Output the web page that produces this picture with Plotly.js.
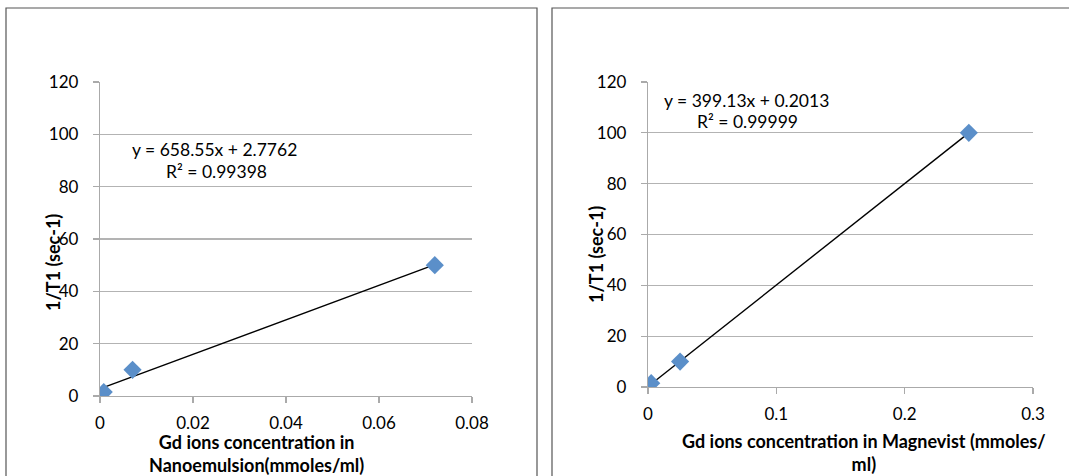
<!DOCTYPE html>
<html><head><meta charset="utf-8">
<script src="https://cdn.plot.ly/plotly-3.0.1.min.js"></script>
<style>body{margin:0;background:#fff}#c{width:1069px;height:476px}</style>
</head><body><div id="c"></div>
<script>
// Left: Nanoemulsion
const nanoX = [0.0008, 0.007, 0.072];
const nanoY = [1.5, 10, 50];
const nanoFit = {slope: 658.55, intercept: 2.7762, r2: "0.99398"};
// Right: Magnevist
const magX = [0.0025, 0.025, 0.25];
const magY = [1.5, 10, 100];
const magFit = {slope: 399.13, intercept: 0.2013, r2: "0.99999"};

const yTicks = [0, 20, 40, 60, 80, 100, 120];
const nanoXTicks = [0, 0.02, 0.04, 0.06, 0.08];
const nanoXLabels = ["0", "0.02", "0.04", "0.06", "0.08"];
const magXTicks = [0, 0.1, 0.2, 0.3];
const magXLabels = ["0", "0.1", "0.2", "0.3"];

const FONT = "Lato, 'Open Sans', sans-serif";
const mk = {symbol: "diamond", size: 14, color: "#5b8fc9"};

function fitLine(xs, f) {
  const lo = Math.min(...xs), hi = Math.max(...xs);
  return {x: [lo, hi], y: [f.slope * lo + f.intercept, f.slope * hi + f.intercept]};
}
const nl = fitLine(nanoX, nanoFit), ml = fitLine(magX, magFit);

const data = [
  {x: nl.x, y: nl.y, mode: "lines", line: {color: "#000", width: 1.4}, xaxis: "x", yaxis: "y", hoverinfo: "skip"},
  {x: nanoX, y: nanoY, mode: "markers", marker: mk, xaxis: "x", yaxis: "y"},
  {x: ml.x, y: ml.y, mode: "lines", line: {color: "#000", width: 1.4}, xaxis: "x2", yaxis: "y2", hoverinfo: "skip"},
  {x: magX, y: magY, mode: "markers", marker: mk, xaxis: "x2", yaxis: "y2"}
];

const W = 1069, H = 476;
const px = v => v / W, py = v => 1 - v / H;

function xax(dom, range, tv, tt, anchor) {
  return {domain: dom, range: range, tickvals: tv, ticktext: tt, anchor: anchor,
    showgrid: false, zeroline: false, showline: true, linecolor: "#aaaaaa", linewidth: 1.2,
    ticks: "outside", ticklen: 6, tickcolor: "#aaaaaa", tickwidth: 1.2, ticklabelstandoff: 5,
    tickfont: {family: FONT, size: 17, color: "#000"}, fixedrange: true};
}
function yax(dom, anchor) {
  return {domain: dom, range: [0, 120], tickvals: yTicks, anchor: anchor,
    showgrid: true, gridcolor: "#b3b3b3", gridwidth: 1.2, zeroline: false,
    showline: true, linecolor: "#aaaaaa", linewidth: 1.2,
    ticks: "outside", ticklen: 6, tickcolor: "#aaaaaa", tickwidth: 1.2, ticklabelstandoff: 11,
    tickfont: {family: FONT, size: 17, color: "#000"}, fixedrange: true};
}
function note(x, y, text, size, angle) {
  return {xref: "paper", yref: "paper", x: px(x), y: py(y), xanchor: "center", yanchor: "middle",
    text: text, textangle: angle || 0, showarrow: false, font: {family: FONT, size: size, color: "#000"}};
}

const layout = {
  width: W, height: H, margin: {l: 0, r: 0, t: 0, b: 0},
  paper_bgcolor: "#fff", plot_bgcolor: "rgba(0,0,0,0)", showlegend: false,
  font: {family: FONT, color: "#000"},
  xaxis: xax([px(100), px(472)], [0, 0.08], nanoXTicks, nanoXLabels, "y"),
  yaxis: yax([py(396), py(82)], "x"),
  xaxis2: xax([px(648), px(1033)], [0, 0.3], magXTicks, magXLabels, "y2"),
  yaxis2: yax([py(387), py(82)], "x2"),
  shapes: [
    {type: "rect", xref: "paper", yref: "paper", x0: px(6), x1: px(537), y0: py(490), y1: py(8), line: {color: "#555", width: 1.2}},
    {type: "rect", xref: "paper", yref: "paper", x0: px(552), x1: px(1080), y0: py(490), y1: py(8), line: {color: "#555", width: 1.2}}
  ],
  annotations: [
    note(214, 149, "y = 658.55x + 2.7762", 17.5),
    note(216, 171, "R² = " + nanoFit.r2, 17.5),
    note(746, 100, "y = 399.13x + 0.2013", 17.5),
    note(747, 122, "R² = " + magFit.r2, 17.5),
    note(53, 263, "<b>1/T1 (sec-1)</b>", 18, -90),
    note(596, 255, "<b>1/T1 (sec-1)</b>", 18, -90),
    note(256, 453, "<b>Gd ions concentration in<br>Nanoemulsion(mmoles/ml)</b>", 18),
    note(864, 452, "<b>Gd ions concentration in Magnevist (mmoles/<br>ml)</b>", 18)
  ]
};
Plotly.newPlot("c", data, layout, {staticPlot: true, displayModeBar: false});
</script></body></html>
